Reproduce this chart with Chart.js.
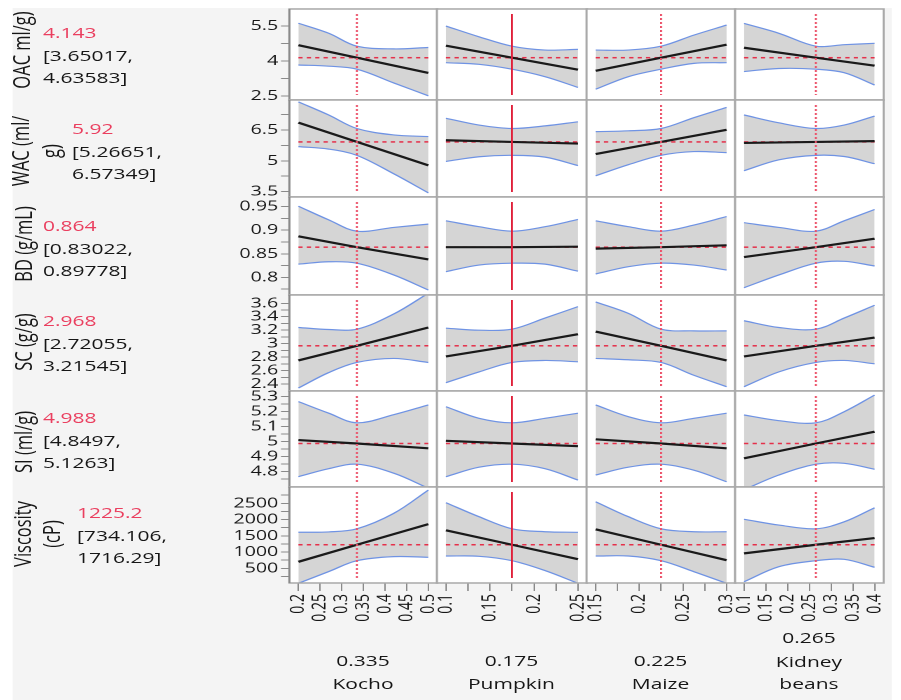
<!DOCTYPE html>
<html>
<head>
<meta charset="utf-8">
<script src="https://cdn.jsdelivr.net/npm/chart.js@4.4.1/dist/chart.umd.min.js"></script>
<style>
  html, body { margin: 0; padding: 0; background: #fff; }
  body { width: 901px; height: 700px; overflow: hidden; position: relative; font-family: "Open Sans", sans-serif; }
  /* the reference picture is stretched sideways, so the whole board is drawn narrow and widened */
  #stage { position: absolute; left: 0; top: 0; width: 643.6px; height: 700px; transform: scaleX(1.4); transform-origin: 0 0; }
  #bg { position: absolute; left: 8.6px; top: 8px; width: 628.6px; height: 692px; background: #f4f4f4; }
  .panel { position: absolute; }
  .txt { position: absolute; white-space: nowrap; font-size: 15px; line-height: 22.5px; color: #161616; }
  .red { color: #ea3f5f; }
  .rot { position: absolute; white-space: nowrap; font-size: 16.5px; line-height: 21px; color: #161616; text-align: center; transform: translate(-50%, -50%) rotate(-90deg); }
  .ctr { position: absolute; white-space: nowrap; font-size: 15px; line-height: 22px; color: #161616; text-align: center; transform: translateX(-50%); }
</style>
</head>
<body>
<div id="stage"><div id="bg"></div></div>
<script>
const S = 1.4;

// factors (columns)
const factors = [['Kocho'], ['Pumpkin'], ['Maize'], ['Kidney', 'beans']];
const factorNow = [0.335, 0.175, 0.225, 0.265];
const factorLo = [0.2, 0.1, 0.15, 0.1];
const factorHi = [0.5, 0.25, 0.3, 0.4];
const bandX = [
    [0.2, 0.27, 0.335, 0.42, 0.5],
    [0.1, 0.1375, 0.175, 0.2125, 0.25],
    [0.15, 0.1875, 0.225, 0.2625, 0.3],
    [0.1, 0.18, 0.265, 0.33, 0.4]
];
const kochoTicks = [0.2, 0.25, 0.3, 0.35, 0.4, 0.45, 0.5];
const pumpkinTicks = [0.1, 0.125, 0.15, 0.175, 0.2, 0.225, 0.25];
const maizeTicks = [0.15, 0.175, 0.2, 0.225, 0.25, 0.275, 0.3];
const kidneyTicks = [0.1, 0.15, 0.2, 0.25, 0.3, 0.35, 0.4];
const pumpkinLabels = [0.1, 0.15, 0.2, 0.25];
const maizeLabels = [0.15, 0.2, 0.25, 0.3];

// responses (rows)
const responses = [['OAC ml/g)'], ['WAC (ml/', 'g)'], ['BD (g/mL)'], ['SC (g/g)'], ['SI (ml/g)'], ['Viscosity', '(cP)']];
const predicted = [4.143, 5.92, 0.864, 2.968, 4.988, 1225.2];
const predLow = [3.65017, 5.26651, 0.83022, 2.72055, 4.8497, 734.106];
const predHigh = [4.63583, 6.57349, 0.89778, 3.21545, 5.1263, 1716.29];

const oacTicks = [2.5, 4, 5.5];
const wacTicks = [3.5, 5, 6.5];
const bdTicks = [0.8, 0.85, 0.9, 0.95];
const scTicks = [2.4, 2.6, 2.8, 3, 3.2, 3.4, 3.6];
const siTicks = [4.8, 4.9, 5, 5.1, 5.2, 5.3];
const viscTicks = [500, 1000, 1500, 2000, 2500];
const oacMinor = [3.25, 4.75];
const wacMinor = [4.25, 5.75, 7.25];
const bdMinor = [0.775, 0.825, 0.875, 0.925];
const scMinor = [2.5, 2.7, 2.9, 3.1, 3.3, 3.5];
const siMinor = [4.75, 4.85, 4.95, 5.05, 5.15, 5.25];
const viscMinor = [250, 750, 1250, 1750, 2250, 2750];

// prediction line: value at low end and high end of each factor
const oacLine = [[4.68, 3.49], [4.66, 3.63], [3.58, 4.70], [4.57, 3.80]];
const wacLine = [[6.86, 4.78], [6.00, 5.84], [5.33, 6.51], [5.87, 5.96]];
const bdLine = [[0.887, 0.838], [0.864, 0.865], [0.861, 0.868], [0.843, 0.882]];
const scLine = [[2.75, 3.24], [2.81, 3.14], [3.18, 2.75], [2.81, 3.09]];
const siLine = [[5.011, 4.956], [5.006, 4.970], [5.016, 4.956], [4.889, 5.067]];
const viscLine = [[700, 1860], [1670, 780], [1700, 750], [960, 1430]];

// confidence band, read at bandX
const oacUpper = [[5.62, 5.19, 4.636, 4.52, 4.58], [5.50, 5.04, 4.636, 4.47, 4.50], [4.47, 4.47, 4.636, 5.11, 5.54], [5.61, 5.19, 4.636, 4.70, 4.76]];
const oacLower = [[3.83, 3.78, 3.65, 3.06, 2.51], [3.93, 3.86, 3.65, 3.33, 2.87], [2.79, 3.33, 3.65, 3.90, 3.93], [3.55, 3.68, 3.65, 3.50, 2.97]];
const wacUpper = [[7.87, 7.23, 6.573, 6.26, 6.18], [7.07, 6.74, 6.573, 6.70, 6.90], [6.42, 6.46, 6.573, 7.10, 7.60], [7.23, 6.85, 6.573, 6.74, 7.18]];
const wacLower = [[5.69, 5.57, 5.267, 4.37, 3.44], [4.97, 5.20, 5.267, 5.18, 4.77], [4.27, 4.81, 5.267, 5.45, 5.40], [4.52, 5.05, 5.267, 5.21, 4.86]];
const bdUpper = [[0.951, 0.922, 0.898, 0.906, 0.913], [0.920, 0.9075, 0.898, 0.9075, 0.923], [0.920, 0.9075, 0.898, 0.911, 0.929], [0.916, 0.906, 0.898, 0.920, 0.944]];
const bdLower = [[0.828, 0.833, 0.830, 0.805, 0.773], [0.812, 0.826, 0.830, 0.828, 0.813], [0.807, 0.8225, 0.830, 0.826, 0.8155], [0.778, 0.805, 0.830, 0.834, 0.824]];
const scUpper = [[3.24, 3.21, 3.215, 3.44, 3.75], [3.23, 3.20, 3.215, 3.38, 3.55], [3.62, 3.45, 3.215, 3.19, 3.19], [3.34, 3.24, 3.215, 3.38, 3.57]];
const scLower = [[2.34, 2.57, 2.72, 2.78, 2.72], [2.42, 2.58, 2.72, 2.75, 2.73], [2.78, 2.76, 2.72, 2.53, 2.36], [2.36, 2.58, 2.72, 2.75, 2.70]];
const siUpper = [[5.267, 5.19, 5.126, 5.18, 5.245], [5.233, 5.156, 5.126, 5.156, 5.19], [5.245, 5.167, 5.126, 5.156, 5.19], [5.178, 5.14, 5.126, 5.20, 5.311]];
const siLower = [[4.767, 4.82, 4.850, 4.79, 4.69], [4.767, 4.83, 4.850, 4.82, 4.744], [4.778, 4.83, 4.850, 4.81, 4.733], [4.68, 4.778, 4.850, 4.856, 4.816]];
const viscUpper = [[1610, 1620, 1716, 2190, 2909], [2518, 2088, 1716, 1626, 1608], [2549, 2088, 1716, 1626, 1626], [2008, 1830, 1716, 1930, 2365]];
const viscLower = [[38, 400, 734, 860, 838], [878, 870, 734, 430, 38], [878, 878, 734, 397, 38], [88, 550, 734, 777, 530]];

const xTicks = [kochoTicks, pumpkinTicks, maizeTicks, kidneyTicks];
const xLabels = [kochoTicks, pumpkinLabels, maizeLabels, kidneyTicks];
const yTicks = [oacTicks, wacTicks, bdTicks, scTicks, siTicks, viscTicks];
const yMinor = [oacMinor, wacMinor, bdMinor, scMinor, siMinor, viscMinor];
const lines = [oacLine, wacLine, bdLine, scLine, siLine, viscLine];
const uppers = [oacUpper, wacUpper, bdUpper, scUpper, siUpper, viscUpper];
const lowers = [oacLower, wacLower, bdLower, scLower, siLower, viscLower];

// layout (page pixels)
const colX = [289, 437, 586, 735, 883];
const rowY = [9, 100, 197, 295, 391, 487, 583];
const yRange = [[2.33, 6.23], [3.24, 7.96], [0.7624, 0.9706], [2.296, 3.723], [4.698, 5.338], [48, 3002]];
const P = 10, AXW = 64 / S, AXH = 48;

const red = '#e5304a';
const blue = '#6f93e4';
const band = '#d5d5d5';

Chart.defaults.font.family = "'Open Sans', sans-serif";

const frame = {
    id: 'frame',
    beforeDraw(chart) {
        const { ctx, chartArea: a } = chart;
        ctx.save();
        ctx.fillStyle = '#fff';
        ctx.fillRect(a.left, a.top, a.width, a.height);
        ctx.restore();
    },
    afterDraw(chart, args, opts) {
        const { ctx, chartArea: a } = chart;
        ctx.save();
        ctx.strokeStyle = '#a9a9a9';
        ctx.lineWidth = 1.5;
        ctx.strokeRect(a.left, a.top, a.width, a.height);
        if (opts.axis) {
            ctx.strokeStyle = '#8a8a8a';
            ctx.beginPath();
            ctx.moveTo(a.left, a.top);
            ctx.lineTo(a.left, a.bottom);
            ctx.stroke();
        }
        ctx.restore();
    }
};

// vertical marker at the current factor setting
const factorLine = {
    id: 'factorLine',
    afterDatasetsDraw(chart, args, opts) {
        const { ctx, chartArea: a, scales: { x } } = chart;
        const px = x.getPixelForValue(opts.x);
        ctx.save();
        ctx.beginPath();
        ctx.strokeStyle = opts.solid ? '#e0203a' : '#ec5068';
        ctx.lineWidth = 1.4;
        ctx.setLineDash(opts.solid ? [] : [2, 2]);
        ctx.moveTo(px, a.top + 5);
        ctx.lineTo(px, a.bottom - 5);
        ctx.stroke();
        ctx.restore();
    }
};
Chart.register(frame, factorLine);

const stage = document.getElementById('stage');
const has = (list, v) => list.some(t => Math.abs(t - v) < 1e-9);
const pts = (xs, ys) => xs.map((x, i) => ({ x: x, y: ys[i] }));

for (let r = 0; r < 6; r++) {
    for (let c = 0; c < 4; c++) {
        const firstCol = c === 0, lastRow = r === 5;
        const wPage = colX[c + 1] - colX[c];
        const left = colX[c] / S, top = rowY[r];
        const w = wPage / S, h = rowY[r + 1] - rowY[r];
        const ax = firstCol ? AXW : 0, bx = lastRow ? AXH : 0;

        const div = document.createElement('div');
        div.className = 'panel';
        div.style.left = (left - P - ax) + 'px';
        div.style.top = (top - P) + 'px';
        div.style.width = (w + 2 * P + ax) + 'px';
        div.style.height = (h + 2 * P + bx) + 'px';
        const cv = document.createElement('canvas');
        div.appendChild(cv);
        stage.appendChild(div);

        const lo = factorLo[c], hi = factorHi[c], now = factorNow[c];
        const pad = (hi - lo) * 9 / (wPage - 18);
        const pred = predicted[r];

        new Chart(cv, {
            type: 'line',
            data: {
                datasets: [
                    { data: pts([lo, now, hi], [lines[r][c][0], pred, lines[r][c][1]]), borderColor: '#1a1a1a', borderWidth: 2.2, order: 0 },
                    { data: pts([lo, hi], [pred, pred]), borderColor: red, borderWidth: 1.5, borderDash: [3, 3], order: 1 },
                    { data: pts(bandX[c], uppers[r][c]), borderColor: blue, borderWidth: 1.2, fill: '+1', backgroundColor: band, tension: 0.35, order: 2 },
                    { data: pts(bandX[c], lowers[r][c]), borderColor: blue, borderWidth: 1.2, fill: false, tension: 0.35, order: 3 }
                ]
            },
            options: {
                responsive: true,
                maintainAspectRatio: false,
                animation: false,
                events: [],
                devicePixelRatio: 2,
                layout: { padding: P },
                elements: { point: { radius: 0 }, line: { tension: 0 } },
                plugins: {
                    legend: { display: false },
                    tooltip: { enabled: false },
                    filler: { drawTime: 'beforeDatasetsDraw' },
                    frame: { axis: firstCol },
                    factorLine: { x: now, solid: c === 1 }
                },
                scales: {
                    x: {
                        type: 'linear',
                        min: lo - pad,
                        max: hi + pad,
                        bounds: 'data',
                        display: lastRow,
                        afterBuildTicks: s => { s.ticks = xTicks[c].map(v => ({ value: v })); },
                        afterFit: s => {
                            s.height = lastRow ? AXH : 0;
                            s.paddingLeft = 0;
                            s.paddingRight = 0;
                        },
                        grid: { drawOnChartArea: false, tickLength: 8, color: '#8a8a8a' },
                        border: { display: false },
                        ticks: {
                            autoSkip: false, minRotation: 90, maxRotation: 90, padding: 3,
                            color: '#161616', font: { size: 14 },
                            callback: v => has(xLabels[c], v) ? String(v) : ''
                        }
                    },
                    y: {
                        type: 'linear',
                        min: yRange[r][0],
                        max: yRange[r][1],
                        bounds: 'data',
                        display: firstCol,
                        afterBuildTicks: s => {
                            s.ticks = yTicks[r].concat(yMinor[r]).sort((a, b) => a - b).map(v => ({ value: v }));
                        },
                        afterFit: s => {
                            s.width = firstCol ? AXW : 0;
                            s.paddingTop = 0;
                            s.paddingBottom = 0;
                        },
                        grid: { drawOnChartArea: false, tickLength: 6, color: '#8a8a8a' },
                        border: { display: false },
                        ticks: {
                            autoSkip: false, padding: 2,
                            color: '#161616', font: { size: 14 },
                            callback: v => has(yTicks[r], v) ? String(v) : ''
                        }
                    }
                }
            }
        });
    }
}

function addText(cls, html, x, y) {
    const d = document.createElement('div');
    d.className = cls;
    d.innerHTML = html;
    d.style.left = (x / S) + 'px';
    d.style.top = y + 'px';
    stage.appendChild(d);
    return d;
}

// left side: response names and current predictions
const nameAt = [[21, 50], [35, 151], [22, 244], [22, 342], [22, 442], [37, 534]];
const valueAt = [[43, 21], [72, 117], [43, 214], [43, 309], [43, 406], [77, 501]];
for (let r = 0; r < 6; r++) {
    addText('rot', responses[r].join('<br>'), nameAt[r][0], nameAt[r][1]);
    addText('txt', '<span class="red">' + predicted[r] + '</span><br>[' + predLow[r] + ',<br>' + predHigh[r] + ']', valueAt[r][0], valueAt[r][1]);
}

// bottom: factor settings and names
for (let c = 0; c < 4; c++) {
    const cx = (colX[c] + colX[c + 1]) / 2;
    const n = factors[c].length;
    addText('ctr red', String(factorNow[c]), cx, 683 - 23 * n - 11);
    addText('ctr', factors[c].join('<br>'), cx, 683 - 22 * (n - 1) - 11);
}
</script>
</body>
</html>
